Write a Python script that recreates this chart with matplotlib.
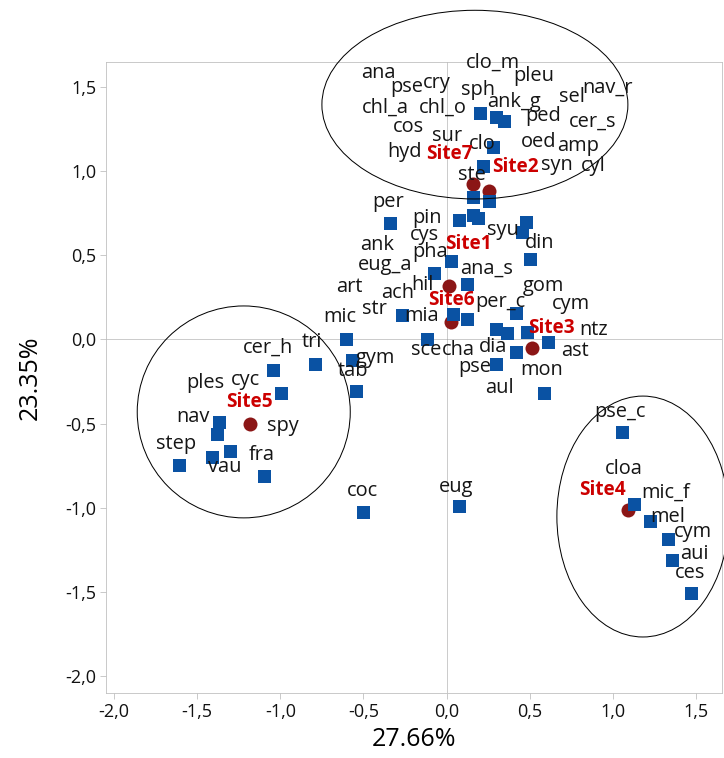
import numpy as np
import matplotlib.pyplot as plt
from matplotlib.patches import Ellipse
from matplotlib.ticker import FuncFormatter, MultipleLocator

plt.rcParams['font.family'] = ['Open Sans', 'DejaVu Sans']

# species scores on the first two axes
species = ['clo_m', 'sph', 'ana', 'pse', 'cry', 'chl_a', 'chl_o', 'cos',
           'pleu', 'ank_g', 'nav_r', 'sel', 'ped', 'cer_s', 'clo', 'oed', 'amp',
           'sur', 'hyd', 'cyl', 'ste', 'syn',
           'per', 'pin', 'cys', 'ank', 'syu', 'din', 'gom', 'pha', 'eug_a', 'ana_s',
           'art', 'ach', 'str', 'hil', 'mia', 'per_c', 'cym', 'mic', 'sce', 'cha',
           'dia', 'ntz', 'ast', 'pse', 'aul', 'mon', 'tri', 'gym', 'tab',
           'cer_h', 'cyc', 'ples', 'nav', 'spy', 'vau', 'step', 'fra',
           'coc', 'eug',
           'pse_c', 'cloa', 'mic_f', 'mel', 'cym', 'aui', 'ces']
sp_x = [0.200, 0.200, 0.200, 0.200, 0.200, 0.200, 0.200, 0.200,
        0.296, 0.296, 0.296, 0.296, 0.345, 0.345, 0.278, 0.278, 0.278,
        0.218, 0.218, 0.218, 0.158, 0.254,
        -0.341, 0.074, 0.158, 0.188, 0.477, 0.453, 0.501, 0.026, -0.076, 0.122,
        -0.269, -0.269, -0.269, 0.038, 0.122, 0.417, 0.483, -0.606, -0.118, 0.296,
        0.363, 0.609, 0.417, 0.296, 0.296, 0.585, -0.792, -0.569, -0.545,
        -1.044, -0.996, -1.369, -1.381, -1.303, -1.411, -1.609, -1.098,
        -0.503, 0.074,
        1.054, 1.126, 1.126, 1.223, 1.331, 1.355, 1.469]
sp_y = [1.343, 1.343, 1.343, 1.343, 1.343, 1.343, 1.343, 1.343,
        1.319, 1.319, 1.319, 1.319, 1.295, 1.295, 1.141, 1.141, 1.141,
        1.028, 1.028, 1.028, 0.845, 0.821,
        0.690, 0.708, 0.738, 0.720, 0.696, 0.637, 0.477, 0.465, 0.394, 0.328,
        0.144, 0.144, 0.144, 0.150, 0.120, 0.156, 0.043, 0.002, 0.002, 0.061,
        0.037, -0.016, -0.075, -0.147, -0.147, -0.319, -0.147, -0.123, -0.307,
        -0.182, -0.319, -0.491, -0.562, -0.663, -0.699, -0.746, -0.811,
        -1.025, -0.990,
        -0.550, -0.977, -0.977, -1.078, -1.185, -1.310, -1.505]

# site scores
sites = ['Site1', 'Site2', 'Site3', 'Site4', 'Site5', 'Site6', 'Site7']
site_x = [0.014, 0.254, 0.513, 1.090, -1.182, 0.026, 0.158]
site_y = [0.316, 0.880, -0.052, -1.016, -0.503, 0.103, 0.923]

# group ellipses: centre, width, height
ell_x = [0.170, -1.220, 1.180]
ell_y = [1.393, -0.431, -1.052]
ell_w = [1.84, 1.281, 1.034]
ell_h = [1.12, 1.258, 1.430]

# label placement (offset in points from the marker)
sp_off = [(13, 50), (-2, 23), (-102, 40), (-73, 26), (-43, 30), (-95, 5), (-37, 5), (-71, -14),
          (38, 41), (18, 15), (112, 29), (76, 20), (39, 5), (89, -1), (-11, 3), (46, 5), (85, 1),
          (-36, 30), (-78, 14), (110, 0), (-1, 22), (68, 36),
          (-2, 21), (-32, 2), (-48, -20), (-101, -27), (-23, -8), (18, -11), (13, -27), (-21, 9),
          (-49, 8), (20, 15),
          (-53, 28), (-4, 22), (-27, 6), (-31, 29), (-45, 3), (-16, 11), (44, 28), (-6, 22),
          (-1, -11), (-37, -21),
          (-14, -14), (46, 12), (59, 1), (-21, -3), (4, -24), (-2, 23), (-3, 22), (23, 2), (-3, 20),
          (-5, 22), (-35, 13), (-14, 39), (-24, 17), (53, 25), (13, -10), (-3, 21), (-2, 21),
          (0, 21), (-3, 19),
          (-2, 20), (-10, 35), (32, 11), (18, 4), (25, 7), (22, 6), (-1, 20)]
site_off = [(19, 42), (27, 24), (20, 20), (-25, 20), (-1, 22), (0, 22), (-23, 30)]

fig = plt.figure(figsize=(724 / 72, 758 / 72), dpi=72)
ax = fig.add_axes([0.1467, 0.0863, 0.8501, 0.8319])

ax.axhline(0, color='#9a9a9a', lw=1, ls=(0, (1, 1)), zorder=1)
ax.axvline(0, color='#9a9a9a', lw=1, ls=(0, (1, 1)), zorder=1)

ax.scatter(site_x, site_y, s=196, marker='o', color='#8b1616', zorder=3, linewidths=0)
ax.scatter(sp_x, sp_y, s=169, marker='s', color='#0a52a3', zorder=4, linewidths=0)

for name, x, y, (dx, dy) in zip(species, sp_x, sp_y, sp_off):
    ax.annotate(name, (x, y), xytext=(dx, dy), textcoords='offset points',
                ha='center', va='center', fontsize=20, color='#151515', zorder=6)
for name, x, y, (dx, dy) in zip(sites, site_x, site_y, site_off):
    ax.annotate(name, (x, y), xytext=(dx, dy), textcoords='offset points',
                ha='center', va='center', fontsize=19, fontweight='bold',
                color='#cc0000', zorder=7)

for cx, cy, w, h in zip(ell_x, ell_y, ell_w, ell_h):
    ax.add_patch(Ellipse((cx, cy), w, h, fill=False, edgecolor='black', lw=1,
                         clip_on=False, zorder=5))

ax.set_xlim(-2.047, 1.654)
ax.set_ylim(-2.097, 1.646)
ax.xaxis.set_major_locator(MultipleLocator(0.5))
ax.yaxis.set_major_locator(MultipleLocator(0.5))
comma = FuncFormatter(lambda v, p: f'{v:.1f}'.replace('.', ','))
ax.xaxis.set_major_formatter(comma)
ax.yaxis.set_major_formatter(comma)

for sp in ax.spines.values():
    sp.set_color('#bdbdbd')
ax.tick_params(direction='out', length=6, color='#bdbdbd', labelsize=18,
               labelcolor='#111111', pad=4)

ax.set_xlabel('27.66%', fontsize=25, labelpad=6)
ax.set_ylabel('23.35%', fontsize=25, labelpad=22)

fig.savefig('out.png', dpi=72)
